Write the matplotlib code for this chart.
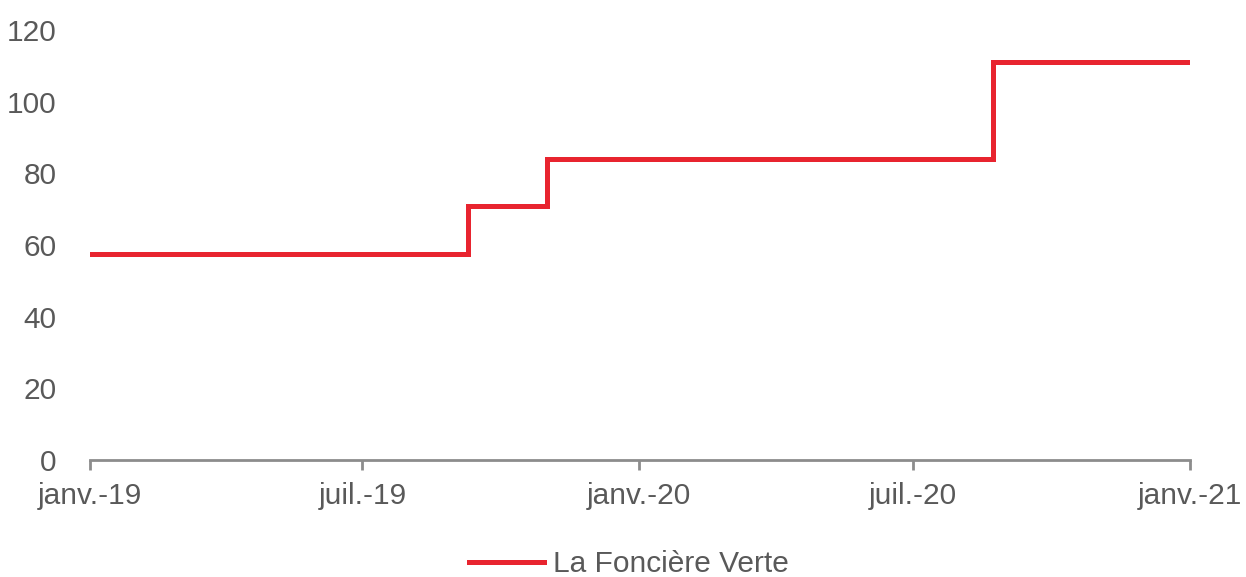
import matplotlib.pyplot as plt
import pandas as pd

# valeurs (paliers)
dates = pd.to_datetime(["2019-01-01", "2019-09-09", "2019-11-01", "2020-08-23", "2021-01-01"])
values = [57.4, 71, 84, 111, 111]
tick_dates = pd.to_datetime(["2019-01-01", "2019-07-01", "2020-01-01", "2020-07-01", "2021-01-01"])
tick_labels = ["janv.-19", "juil.-19", "janv.-20", "juil.-20", "janv.-21"]
series_name = "La Foncière Verte"

plt.rcParams['font.family'] = ['Liberation Sans', 'DejaVu Sans']
grey = "#595959"
red = "#E8242F"
fs = 21.5

fig = plt.figure(figsize=(12.46, 5.77), dpi=100)
ax = fig.add_axes([0.0722, 0.2028, 0.8828, 0.7452])

ax.plot(dates, values, drawstyle="steps-post", color=red, lw=3.6,
        solid_joinstyle="miter", label=series_name)

ax.set_xlim(tick_dates[0], tick_dates[-1])
ax.set_ylim(0, 120)
ax.set_yticks(range(0, 121, 20))
ax.set_xticks(tick_dates)
ax.set_xticklabels(tick_labels)

for s in ["top", "right", "left"]:
    ax.spines[s].set_visible(False)
ax.spines["bottom"].set_color("#8c8c8c")
ax.spines["bottom"].set_linewidth(2)
ax.tick_params(axis="x", colors="#8c8c8c", length=7, width=2, labelsize=fs,
               labelcolor=grey, pad=9)
ax.tick_params(axis="y", length=0, labelsize=fs, labelcolor=grey, pad=24)

ax.legend(loc="center", bbox_to_anchor=(0.49, -0.243), frameon=False,
          fontsize=fs, labelcolor=grey, handlelength=2.5, handletextpad=0.3,
          borderpad=0.1)

fig.savefig("out.png", dpi=100)
